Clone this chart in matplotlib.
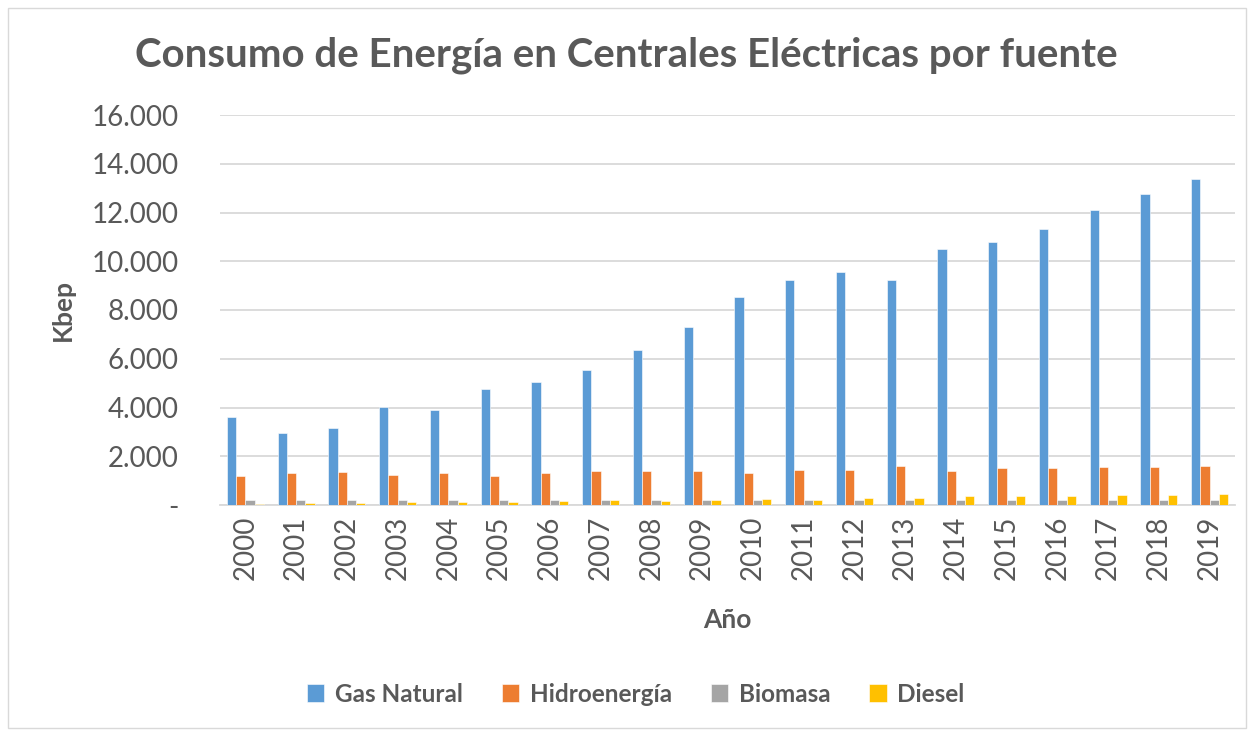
import matplotlib
matplotlib.use("Agg")
import matplotlib.pyplot as plt
import numpy as np
from matplotlib.ticker import FuncFormatter
from matplotlib.patches import Rectangle

years = [str(y) for y in range(2000, 2020)]
gas_natural = [3620, 2960, 3170, 4040, 3910, 4740, 5060, 5540, 6360, 7310,
               8520, 9230, 9550, 9230, 10500, 10790, 11320, 12100, 12770, 13380]
hidroenergia = [1180, 1300, 1350, 1220, 1310, 1190, 1320, 1390, 1390, 1380,
                1310, 1420, 1420, 1580, 1410, 1510, 1520, 1540, 1550, 1580]
biomasa = [190, 190, 190, 190, 190, 190, 190, 190, 190, 190,
           190, 190, 190, 190, 190, 190, 190, 190, 190, 190]
diesel = [50, 90, 90, 120, 120, 130, 150, 190, 180, 190,
          250, 220, 290, 300, 380, 370, 380, 410, 420, 460]

series = [("Gas Natural", gas_natural, "#5B9BD5"),
          ("Hidroenergía", hidroenergia, "#ED7D31"),
          ("Biomasa", biomasa, "#A5A5A5"),
          ("Diesel", diesel, "#FFC000")]

TXT = "#595959"
FONT = ["Lato", "DejaVu Sans"]
plt.rcParams['font.family'] = FONT

fig = plt.figure(figsize=(12.52, 7.34), dpi=100)
fig.patches.append(Rectangle((8/1252, 6/734), 1238/1252, 720/734, transform=fig.transFigure,
                             fill=False, edgecolor="#D9D9D9", linewidth=1))
ax = fig.add_axes([220/1252, 1 - 505/734, 1015/1252, 390/734])

x = np.arange(len(years))
w = 0.183
for i, (name, vals, col) in enumerate(series):
    ax.bar(x + (i - 1.5) * w, vals, width=w, color=col, label=name,
           edgecolor="white", linewidth=0.4, zorder=3)

ax.set_xlim(-0.5, len(years) - 0.5)
ax.set_ylim(0, 16000)
ax.set_yticks(np.arange(0, 16001, 2000))
ax.yaxis.set_major_formatter(FuncFormatter(
    lambda v, p: "-" if v == 0 else f"{int(v):,}".replace(",", ".")))
ax.grid(axis="y", color="#D9D9D9", linewidth=1.3, zorder=0)
ax.set_axisbelow(True)
for s in ["top", "right", "left"]:
    ax.spines[s].set_visible(False)
ax.spines["bottom"].set_color("#D9D9D9")
ax.spines["bottom"].set_linewidth(1.3)
ax.tick_params(axis="both", length=0, colors=TXT, labelsize=20)
ax.tick_params(axis="y", pad=30)
ax.tick_params(axis="x", pad=8)
ax.set_xticks(x)
ax.set_xticklabels(years, rotation=90)

ax.set_ylabel("Kbep", fontsize=19, fontweight="bold", color=TXT, labelpad=12)
ax.set_xlabel("Año", fontsize=19, fontweight="bold", color=TXT, labelpad=20)

fig.text(0.5, 1 - 55/734, "Consumo de Energía en Centrales Eléctricas por fuente",
         ha="center", va="center", fontsize=29, fontweight="bold", color=TXT)

leg = fig.legend(loc="center", bbox_to_anchor=(0.508, 1 - 694/734), ncol=4,
                 frameon=False, prop={"size": 17.5, "weight": "bold", "family": FONT},
                 handlelength=0.7, handleheight=0.7, columnspacing=1.6, handletextpad=0.45)
for t in leg.get_texts():
    t.set_color(TXT)

fig.savefig("out.png", dpi=100, facecolor="white")
